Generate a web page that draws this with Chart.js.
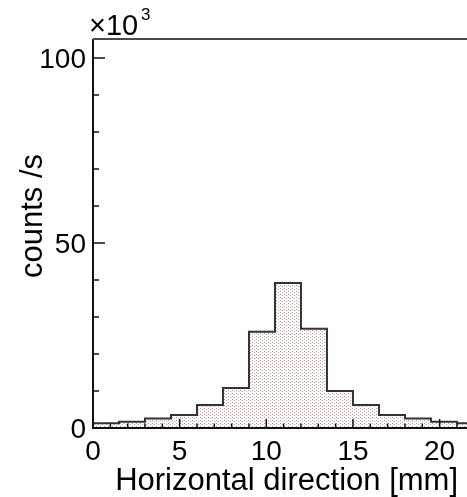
<!DOCTYPE html>
<html>
<head>
<meta charset="utf-8">
<script src="https://cdn.jsdelivr.net/npm/chart.js@4/dist/chart.umd.min.js"></script>
<style>
  body { margin: 0; background: #fff; overflow: hidden; }
  #hist { display: block; }
</style>
</head>
<body>
<canvas id="hist" width="467" height="497"></canvas>
<script>
  // bin edges in mm, counts in units of 10^3 counts/s
  const binEdges = [0, 1.5, 3, 4.5, 6, 7.5, 9, 10.5, 12, 13.5, 15, 16.5, 18, 19.5, 21, 22.5];
  const binCounts = [1.3, 1.7, 2.6, 3.5, 6.2, 10.8, 26.0, 39.2, 26.8, 10.0, 6.2, 3.5, 2.6, 1.7, 1.3];

  const xMajorTicks = [0, 5, 10, 15, 20];
  const xTickLabels = ['0', '5', '10', '15', '20'];
  const xMinorTicks = [1, 2, 3, 4, 6, 7, 8, 9, 11, 12, 13, 14, 16, 17, 18, 19, 21];
  const yMajorTicks = [0, 50, 100];
  const yTickLabels = ['0', '50', '100'];
  const yMinorTicks = [10, 20, 30, 40, 60, 70, 80, 90];

  const FONT = '"Liberation Sans", Arial, Helvetica, sans-serif';

  // dotted fill like ROOT's pattern style
  function makePattern() {
    var pc = document.createElement('canvas');
    pc.width = 4;
    pc.height = 3;
    var p = pc.getContext('2d');
    p.fillStyle = '#fff';
    p.fillRect(0, 0, 4, 3);
    p.fillStyle = '#a4a4a4';
    p.fillRect(0, 0, 1, 1);
    p.fillStyle = '#eaa0a0';
    p.fillRect(2, 1, 1, 1);
    return p.createPattern(pc, 'repeat');
  }

  const points = [{ x: binEdges[0], y: 0 }];
  binCounts.forEach((c, i) => points.push({ x: binEdges[i], y: c }));
  points.push({ x: binEdges[binEdges.length - 1], y: binCounts[binCounts.length - 1] });

  const rootAxes = {
    id: 'rootAxes',
    afterDatasetsDraw(chart) {
      const ctx = chart.ctx;
      const a = chart.chartArea;
      const xs = chart.scales.x;
      const ys = chart.scales.y;
      ctx.save();

      // ticks drawn inside the frame
      ctx.strokeStyle = '#111';
      ctx.lineWidth = 1.5;
      ctx.beginPath();
      xMajorTicks.forEach(v => {
        const px = xs.getPixelForValue(v);
        ctx.moveTo(px, a.bottom); ctx.lineTo(px, a.bottom - 9);
      });
      xMinorTicks.forEach(v => {
        const px = xs.getPixelForValue(v);
        ctx.moveTo(px, a.bottom); ctx.lineTo(px, a.bottom - 4.5);
      });
      yMajorTicks.forEach(v => {
        const py = ys.getPixelForValue(v);
        ctx.moveTo(a.left, py); ctx.lineTo(a.left + 12, py);
      });
      yMinorTicks.forEach(v => {
        const py = ys.getPixelForValue(v);
        ctx.moveTo(a.left, py); ctx.lineTo(a.left + 6, py);
      });
      ctx.stroke();

      // frame
      ctx.lineWidth = 2;
      ctx.strokeStyle = '#111';
      ctx.beginPath();
      ctx.moveTo(a.left, a.top);
      ctx.lineTo(a.left, a.bottom);
      ctx.lineTo(a.right, a.bottom);
      ctx.stroke();
      ctx.strokeStyle = '#4a4a4a';
      ctx.beginPath();
      ctx.moveTo(a.left, a.top);
      ctx.lineTo(a.right, a.top);
      ctx.stroke();

      // tick labels
      ctx.fillStyle = '#000';
      ctx.font = '28px ' + FONT;
      ctx.textAlign = 'center';
      ctx.textBaseline = 'middle';
      xMajorTicks.forEach((v, i) => {
        ctx.fillText(xTickLabels[i], xs.getPixelForValue(v), a.bottom + 24);
      });
      ctx.textAlign = 'right';
      yMajorTicks.forEach((v, i) => {
        ctx.fillText(yTickLabels[i], a.left - 7, ys.getPixelForValue(v) + 2);
      });

      // axis titles
      ctx.font = '31px ' + FONT;
      ctx.textAlign = 'right';
      ctx.textBaseline = 'alphabetic';
      ctx.fillText('Horizontal direction [mm]', 458, 490);

      ctx.save();
      ctx.translate(42, 216);
      ctx.rotate(-Math.PI / 2);
      ctx.textAlign = 'center';
      ctx.fillText('counts /s', 0, 0);
      ctx.restore();

      // exponent
      ctx.textAlign = 'left';
      ctx.font = '29px ' + FONT;
      ctx.fillText('\u00d710', 89, 35);
      ctx.font = '17px ' + FONT;
      ctx.fillText('3', 141, 20);

      ctx.restore();
    }
  };

  new Chart(document.getElementById('hist'), {
    type: 'line',
    data: {
      datasets: [{
        label: 'counts',
        data: points,
        stepped: 'before',
        borderColor: '#333',
        borderWidth: 2,
        pointRadius: 0,
        fill: 'origin',
        backgroundColor: makePattern(),
        clip: 0
      }]
    },
    options: {
      responsive: false,
      animation: false,
      layout: { padding: { left: 93, top: 39, right: 0, bottom: 69 } },
      plugins: {
        legend: { display: false },
        tooltip: { enabled: false }
      },
      scales: {
        x: { type: 'linear', min: 0, max: 21.58, display: false },
        y: { type: 'linear', min: 0, max: 105.1, display: false }
      }
    },
    plugins: [rootAxes]
  });
</script>
</body>
</html>
